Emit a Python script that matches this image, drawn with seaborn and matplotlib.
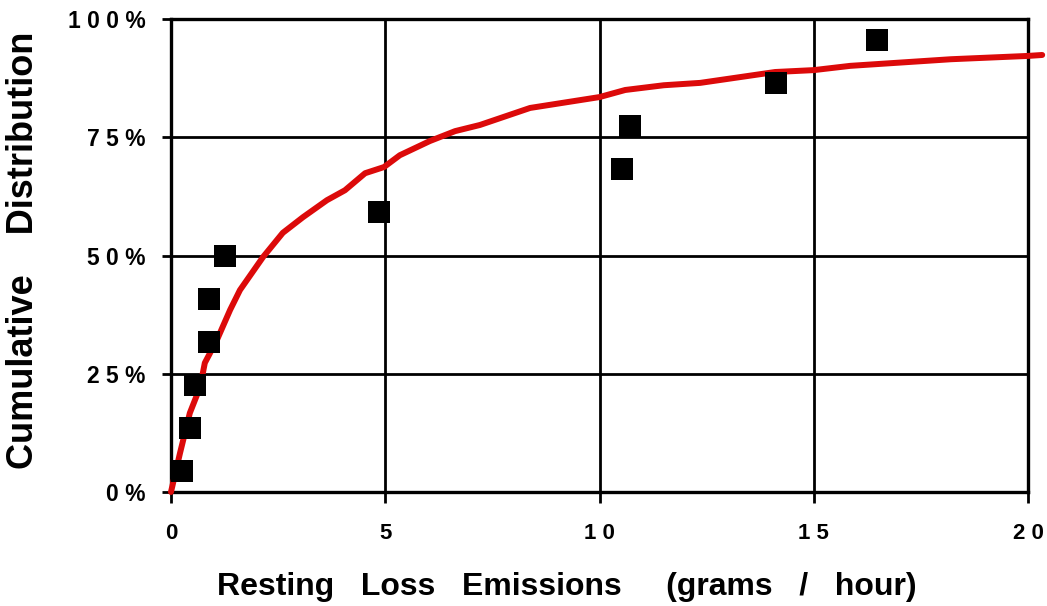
import matplotlib
matplotlib.use("Agg")
import matplotlib.pyplot as plt
import seaborn as sns
import pandas as pd

# Observed data (grams/hour, cumulative %)
obs_x = [0.26, 0.44, 0.56, 0.89, 0.89, 1.26, 4.85, 10.52, 10.71, 14.12, 16.48]
obs_y = [4.5, 13.6, 22.7, 31.8, 40.9, 50.0, 59.1, 68.2, 77.3, 86.4, 95.5]

# Fitted distribution curve
fit_x = [0.0, 0.21, 0.44, 0.68, 0.79, 1.07, 1.38, 1.61, 2.15, 2.61, 3.08, 3.64,
         4.06, 4.53, 4.97, 5.34, 6.04, 6.63, 7.21, 8.38, 10.0, 10.6, 11.5,
         12.35, 14.1, 15.0, 15.85, 18.2, 20.0, 20.33]
fit_y = [0.0, 8.2, 16.7, 22.2, 27.3, 32.1, 38.5, 42.7, 49.7, 54.8, 58.1, 61.7,
         63.8, 67.4, 68.7, 71.2, 74.2, 76.3, 77.6, 81.2, 83.5, 85.0, 86.0,
         86.5, 88.8, 89.2, 90.1, 91.5, 92.2, 92.4]

x_ticks = [0, 5, 10, 15, 20]
x_tick_labels = ["0", "5", "1 0", "1 5", "2 0"]
y_ticks = [0, 25, 50, 75, 100]
y_tick_labels = ["0 %", "2 5 %", "5 0 %", "7 5 %", "1 0 0 %"]

sns.set_theme(style="white")
plt.rcParams['font.family'] = ['Liberation Sans', 'DejaVu Sans']
plt.rcParams.update({"text.color": "black", "axes.labelcolor": "black",
                     "xtick.color": "black", "ytick.color": "black"})

fig = plt.figure(figsize=(10.47, 6.06), dpi=100)
ax = fig.add_axes([0.1633, 0.1881, 0.8186, 0.7805])

fit_df = pd.DataFrame({"x": fit_x, "y": fit_y})
obs_df = pd.DataFrame({"x": obs_x, "y": obs_y})

ax.set_xlim(0, 20)
ax.set_ylim(0, 100)
ax.set_xticks(x_ticks)
ax.set_yticks(y_ticks)
ax.grid(True, color="black", linewidth=2.0)
ax.set_axisbelow(True)

sns.lineplot(data=fit_df, x="x", y="y", sort=False, color="#dc0a0a",
             linewidth=4.3, ax=ax, clip_on=False, zorder=3)
sns.scatterplot(data=obs_df, x="x", y="y", marker="s", s=260, color="black",
                edgecolor="black", linewidth=0, ax=ax, zorder=4, clip_on=False)

ax.set_xticklabels(x_tick_labels, fontsize=16, fontweight="bold")
ax.set_yticklabels(y_tick_labels, fontsize=16.5, fontweight="bold")
ax.tick_params(axis="x", direction="out", length=8, width=2, pad=14, bottom=True)
ax.tick_params(axis="y", direction="out", length=6.5, width=2, pad=12, left=True)

for sp in ax.spines.values():
    sp.set_color("black")
    sp.set_linewidth(2.4)

ax.set_xlabel("Resting   Loss   Emissions     (grams   /   hour)", fontsize=23,
              fontweight="bold")
ax.xaxis.set_label_coords(0.462, -0.17)
ax.set_ylabel("Cumulative    Distribution", fontsize=26, fontweight="bold")
ax.yaxis.set_label_coords(-0.152, 0.51)

fig.savefig("out.png", dpi=100)
